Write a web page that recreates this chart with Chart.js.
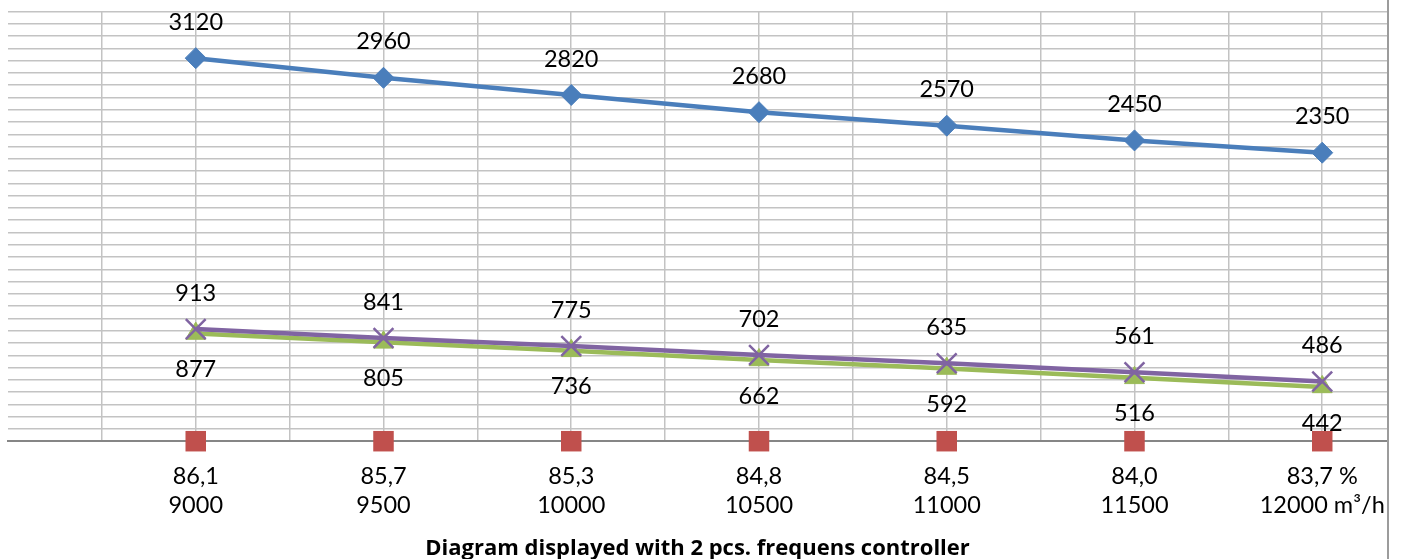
<!DOCTYPE html>
<html>
<head>
<meta charset="utf-8">
<script src="https://cdn.jsdelivr.net/npm/chart.js@4/dist/chart.umd.min.js"></script>
<style>
  html, body { margin: 0; padding: 0; background: #fff; }
  #wrap { position: relative; width: 1387px; height: 559px; border-right: 2px solid #9c9c9c; }
</style>
</head>
<body>
<div id="wrap"><canvas id="chart"></canvas></div>
<script>
// Efficiency (%) and air flow (m³/h) at each operating point
const efficiency = ['86,1', '85,7', '85,3', '84,8', '84,5', '84,0', '83,7 %'];
const airflow = ['9000', '9500', '10000', '10500', '11000', '11500', '12000 m³/h'];

// Series values per operating point
const seriesBlue = [3120, 2960, 2820, 2680, 2570, 2450, 2350];
const seriesRed = [0, 0, 0, 0, 0, 0, 0];
const seriesGreen = [877, 805, 736, 662, 592, 516, 442];
const seriesPurple = [913, 841, 775, 702, 635, 561, 486];

const titleText = 'Diagram displayed with 2 pcs. frequens controller';

const FONT = 'Lato, "Open Sans", sans-serif';
const FONT_SIZE = 23.5;

const toPoints = arr => arr.map((v, i) => ({ x: i + 1, y: v }));

// Draws each value next to its point, above or below
const valueLabels = {
  id: 'valueLabels',
  afterDatasetsDraw(chart) {
    const ctx = chart.ctx;
    chart.data.datasets.forEach((ds, i) => {
      if (!ds.labelPos) return;
      const meta = chart.getDatasetMeta(i);
      ctx.save();
      ctx.font = FONT_SIZE + 'px ' + FONT;
      ctx.fillStyle = '#000';
      ctx.textAlign = 'center';
      ctx.textBaseline = 'middle';
      meta.data.forEach((pt, j) => {
        const dy = ds.labelPos === 'above' ? -36 : 36;
        ctx.fillText(String(ds.data[j].y), pt.x, pt.y + dy);
      });
      ctx.restore();
    });
  }
};

const GRID = '#c3c3c3';

new Chart(document.getElementById('chart'), {
  type: 'line',
  data: {
    datasets: [
      {
        data: toPoints(seriesBlue),
        borderColor: '#4A7EBB', backgroundColor: '#4A7EBB',
        borderWidth: 4.5, tension: 0,
        pointStyle: 'rectRot', pointRadius: 10.5, pointBorderWidth: 1,
        pointBackgroundColor: '#4A7EBB', pointBorderColor: '#4A7EBB',
        labelPos: 'above', order: 3, clip: false
      },
      {
        data: toPoints(seriesRed),
        showLine: false,
        borderColor: '#C0504D', backgroundColor: '#C0504D',
        pointStyle: 'rect', pointRadius: 14.5, pointBorderWidth: 0,
        pointBackgroundColor: '#C0504D', pointBorderColor: '#C0504D',
        order: 2, clip: false
      },
      {
        data: toPoints(seriesGreen),
        borderColor: '#9BBB59', backgroundColor: '#9BBB59',
        borderWidth: 4.5, tension: 0,
        pointStyle: 'triangle', pointRadius: 11.5, pointBorderWidth: 1,
        pointBackgroundColor: '#9BBB59', pointBorderColor: '#9BBB59',
        labelPos: 'below', order: 1, clip: false
      },
      {
        data: toPoints(seriesPurple),
        borderColor: '#8064A2', backgroundColor: '#8064A2',
        borderWidth: 4.5, tension: 0,
        pointStyle: 'crossRot', pointRadius: 14, pointBorderWidth: 2.5,
        pointBackgroundColor: '#8064A2', pointBorderColor: '#8064A2',
        labelPos: 'above', order: 0, clip: false
      }
    ]
  },
  options: {
    responsive: true,
    maintainAspectRatio: false,
    animation: false,
    events: [],
    layout: { autoPadding: false, padding: { left: 8, top: 11.5, right: 0, bottom: 0 } },
    scales: {
      x: {
        type: 'linear', min: 0, max: 7.345,
        ticks: {
          stepSize: 0.5, includeBounds: false, autoSkip: false,
          maxRotation: 0, minRotation: 0, padding: 0,
          color: '#000', font: { family: FONT, size: FONT_SIZE, lineHeight: 29 / 23.5 },
          callback: v => (Number.isInteger(v) && v >= 1 && v <= efficiency.length)
            ? [efficiency[v - 1], airflow[v - 1]] : ''
        },
        grid: {
          color: c => (c.tick && c.tick.value === 0) ? 'rgba(0,0,0,0)' : GRID,
          lineWidth: 1.5, drawTicks: true, tickLength: 21, tickColor: 'rgba(0,0,0,0)'
        },
        border: { color: '#868686', width: 2 }
      },
      y: {
        min: 0, max: 3500,
        afterFit: s => { s.width = 0; },
        ticks: { stepSize: 100, display: false },
        grid: { color: GRID, lineWidth: 1.5, drawTicks: false },
        border: { display: false }
      }
    },
    plugins: {
      legend: { display: false },
      tooltip: { enabled: false },
      title: {
        display: true, position: 'bottom', text: titleText, color: '#000',
        font: { family: '"Open Sans", Lato, sans-serif', size: 22, weight: 'bold', lineHeight: 0.9 },
        padding: { top: 19, bottom: 0 }
      }
    }
  },
  plugins: [valueLabels]
});
</script>
</body>
</html>
